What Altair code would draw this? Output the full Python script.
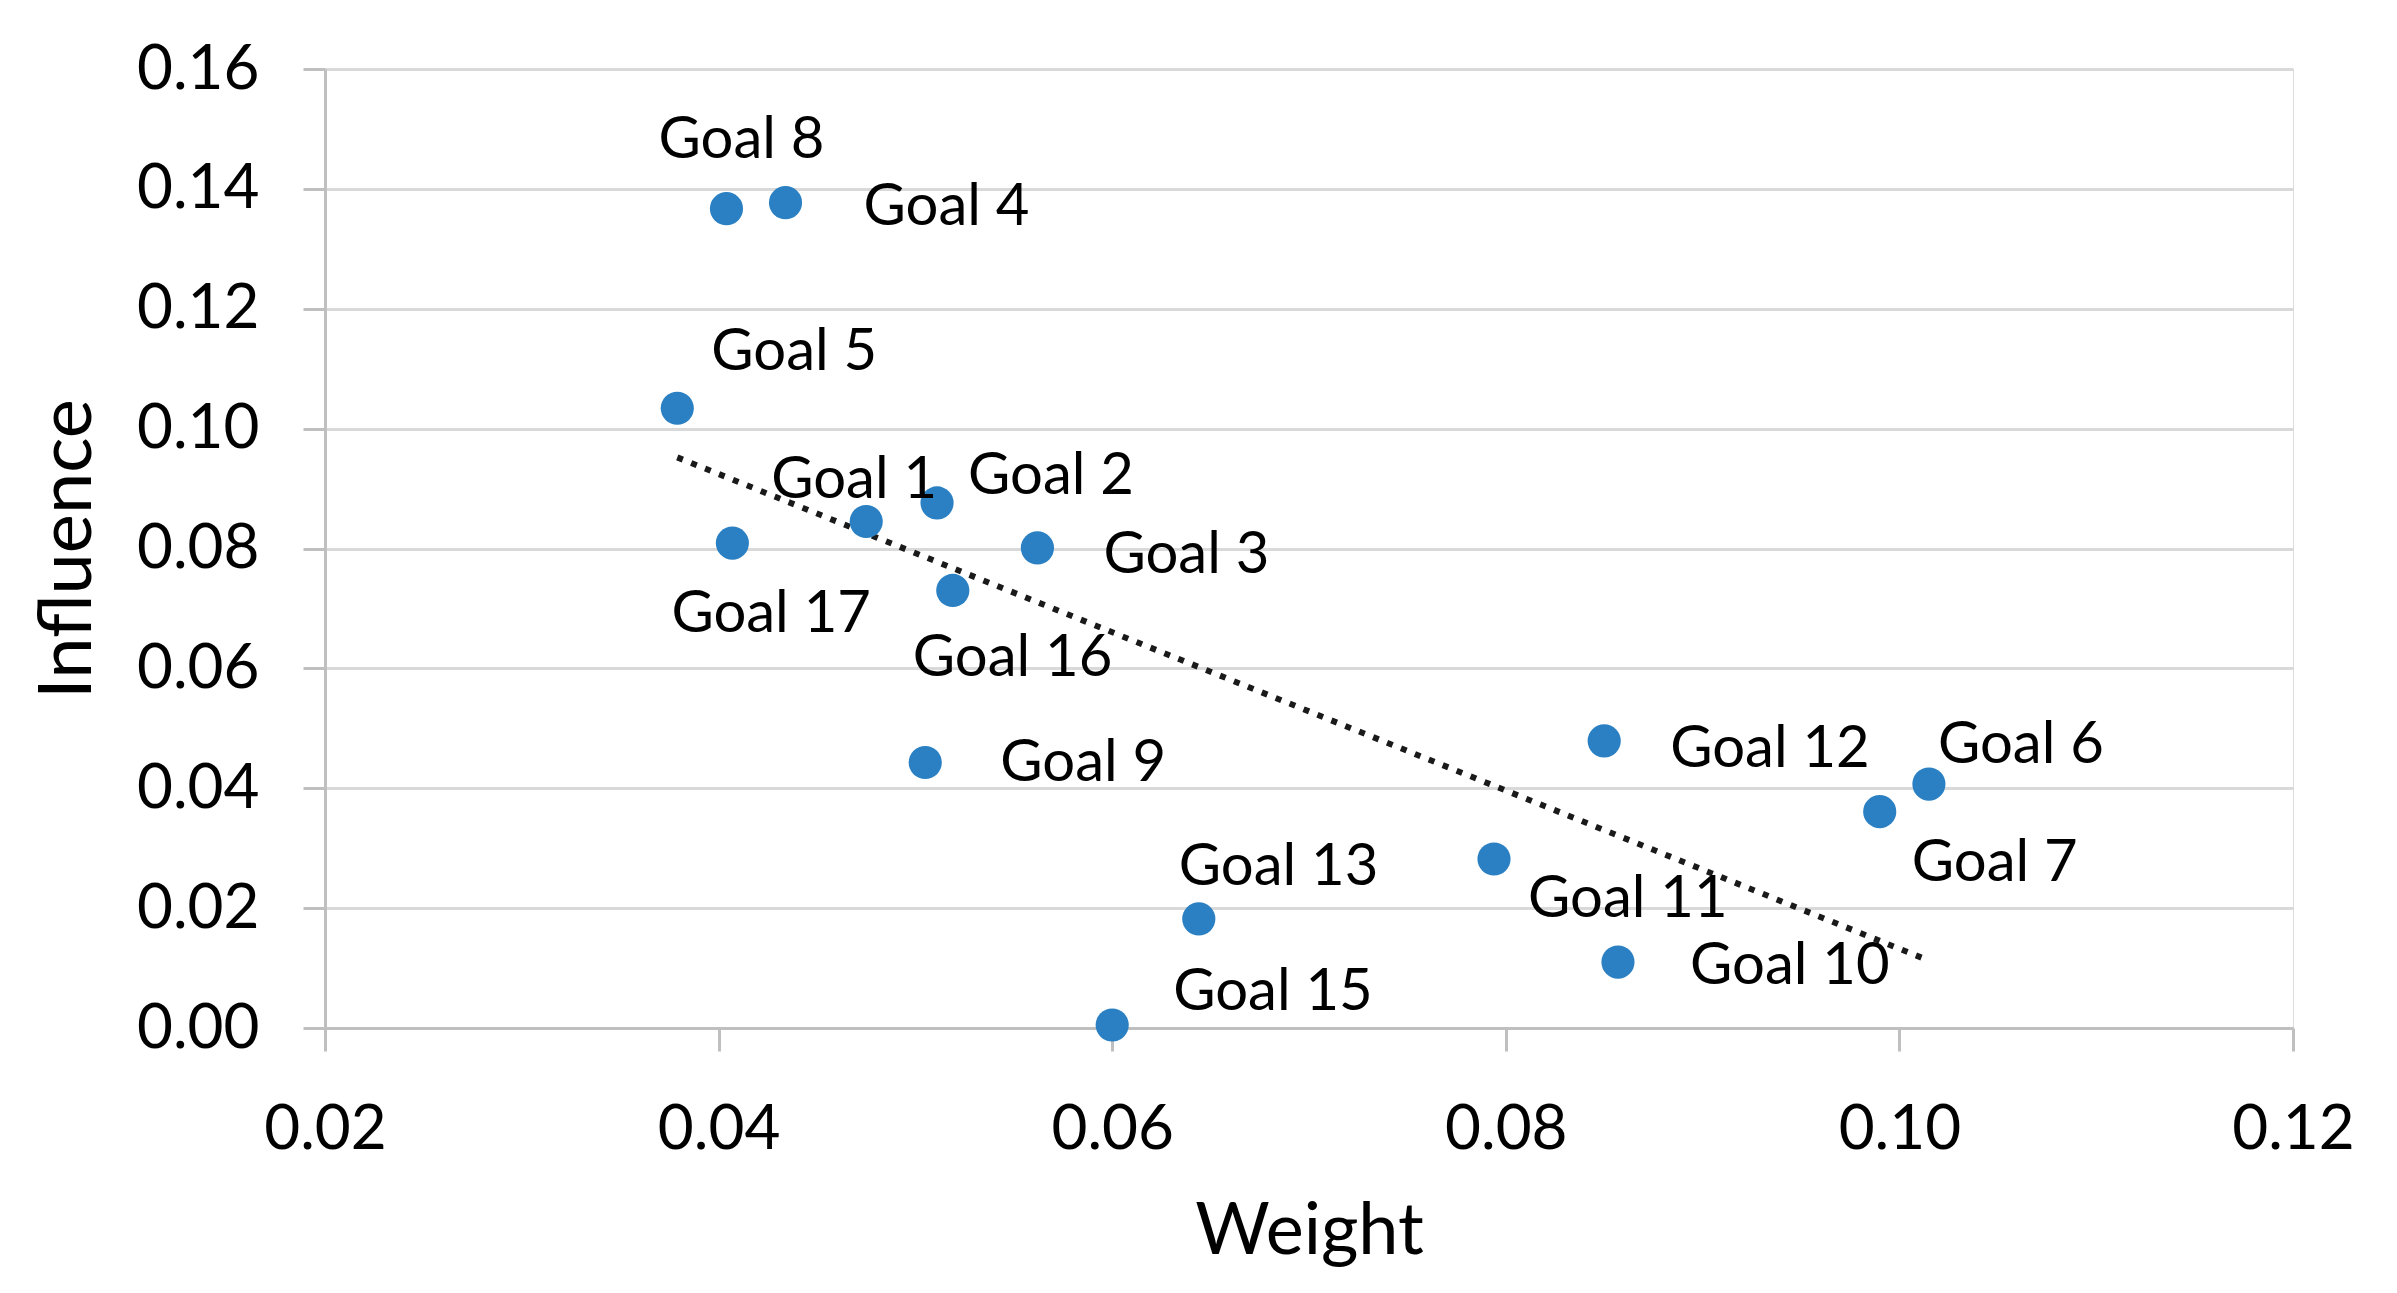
import altair as alt
import pandas as pd

goals = ["Goal 1", "Goal 2", "Goal 3", "Goal 4", "Goal 5", "Goal 6", "Goal 7", "Goal 8",
         "Goal 9", "Goal 10", "Goal 11", "Goal 12", "Goal 13", "Goal 15", "Goal 16", "Goal 17"]
weight = [0.0475, 0.0511, 0.0562, 0.0434, 0.0379, 0.1015, 0.0990, 0.0404,
          0.0505, 0.0857, 0.0794, 0.0850, 0.0644, 0.0600, 0.0519, 0.0407]
influence = [0.0845, 0.0876, 0.0801, 0.1377, 0.1034, 0.0407, 0.0361, 0.1367,
             0.0443, 0.0110, 0.0282, 0.0479, 0.0182, 0.0005, 0.0730, 0.0809]

x_ticks = [0.02, 0.04, 0.06, 0.08, 0.10, 0.12]
y_ticks = [0.00, 0.02, 0.04, 0.06, 0.08, 0.10, 0.12, 0.14, 0.16]

# label offsets (pixels, left-aligned text) relative to each point
label_offsets = {
    "Goal 1": (-95, -41), "Goal 2": (31, -26), "Goal 3": (66, 8), "Goal 4": (78, 5),
    "Goal 5": (34, -55), "Goal 6": (9, -38), "Goal 7": (32, 52), "Goal 8": (-68, -68),
    "Goal 9": (75, 2), "Goal 10": (72, 5), "Goal 11": (34, 41), "Goal 12": (66, 9),
    "Goal 13": (-20, -51), "Goal 15": (61, -32), "Goal 16": (-40, 69), "Goal 17": (-61, 72),
}

df = pd.DataFrame({"goal": goals, "weight": weight, "influence": influence})

FONT = "Lato"
x_enc = alt.X("weight:Q",
              scale=alt.Scale(domain=[0.02, 0.12], nice=False, zero=False),
              axis=alt.Axis(title="Weight", values=x_ticks, format=".2f", grid=False,
                            labelFlush=False, labelOverlap=False,
                            labelFontSize=62, titleFontSize=72, labelFont=FONT, titleFont=FONT,
                            labelColor="#000000", titleColor="#000000", titleFontWeight="normal",
                            domainColor="#bfbfbf", domainWidth=3, tickColor="#bfbfbf",
                            tickWidth=3, tickSize=23, labelPadding=48, titlePadding=36))
y_enc = alt.Y("influence:Q",
              scale=alt.Scale(domain=[0.0, 0.16], nice=False, zero=True),
              axis=alt.Axis(title="Influence", values=y_ticks, format=".2f", grid=True,
                            labelFlush=False, labelOverlap=False,
                            gridColor="#d9d9d9", gridWidth=3,
                            labelFontSize=62, titleFontSize=74, labelFont=FONT, titleFont=FONT,
                            labelColor="#000000", titleColor="#000000", titleFontWeight="normal",
                            domainColor="#bfbfbf", domainWidth=3, tickColor="#bfbfbf",
                            tickWidth=3, tickSize=22, labelPadding=44, titlePadding=30))

base = alt.Chart(df)

points = base.mark_circle(size=1100, opacity=1, color="#2a80c2").encode(x=x_enc, y=y_enc)

trend = base.transform_regression("weight", "influence").mark_line(
    color="#1a1a1a", strokeWidth=6, strokeDash=[6, 9]
).encode(x="weight:Q", y="influence:Q")

layers = [trend, points]
for g in goals:
    dx, dy = label_offsets[g]
    layers.append(
        base.transform_filter(alt.datum.goal == g).mark_text(
            align="left", baseline="middle", dx=dx, dy=dy, fontSize=58, font=FONT, color="#000000"
        ).encode(x="weight:Q", y="influence:Q", text="goal:N")
    )

chart = alt.layer(*layers).properties(
    width=1968, height=959,
    autosize=alt.AutoSizeParams(type="none"),
    padding={"left": 317, "top": 61, "right": 90, "bottom": 240},
).configure_view(stroke=None).configure(background="white")

chart.save("out.html", embed_options={"renderer": "svg", "actions": False})
